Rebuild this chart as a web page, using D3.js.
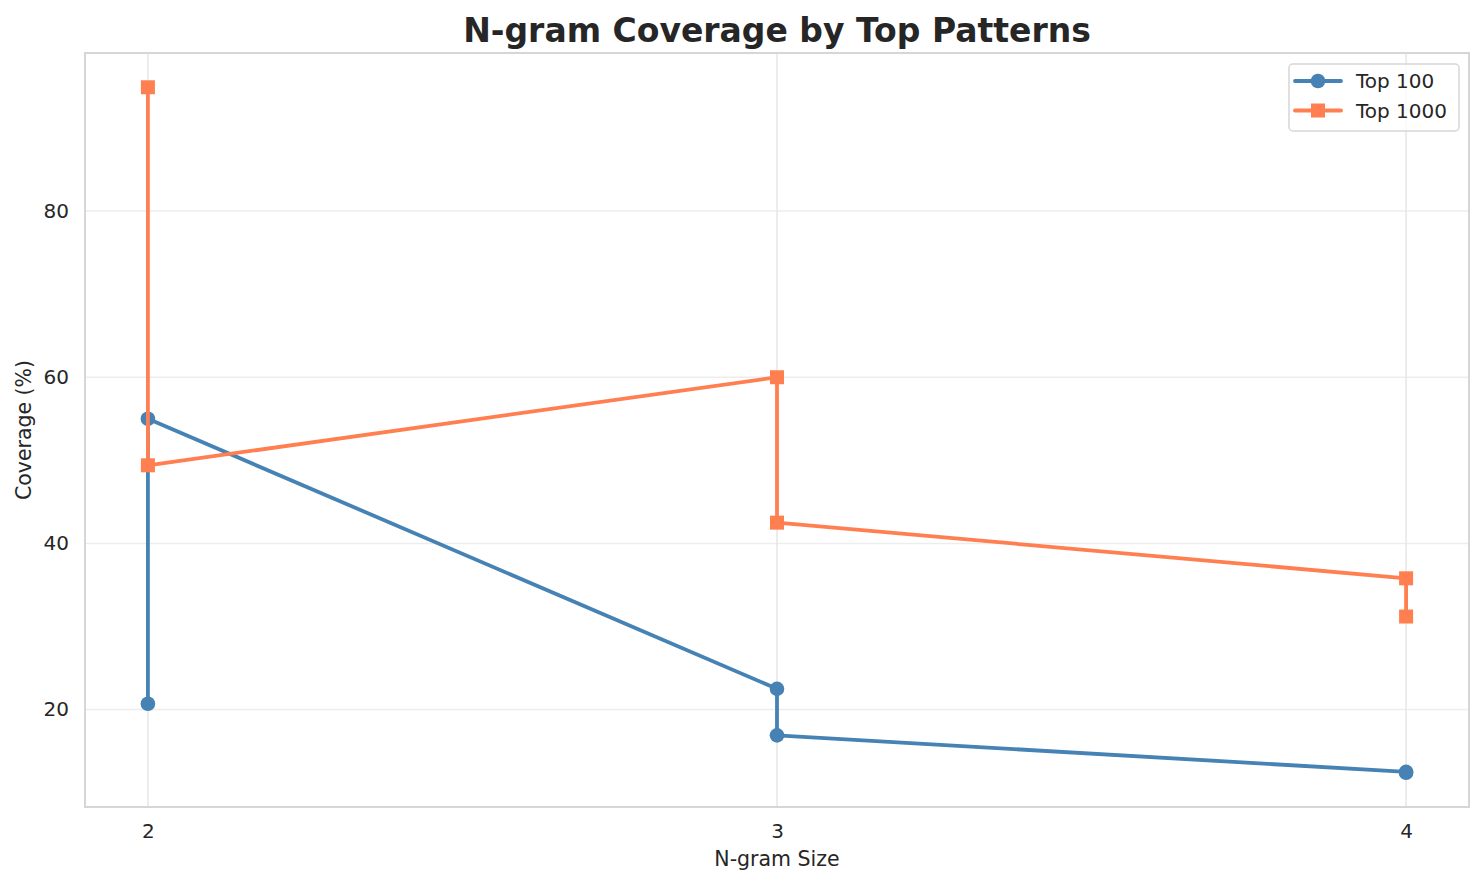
<!DOCTYPE html>
<html>
<head>
<meta charset="utf-8">
<script src="https://cdn.jsdelivr.net/npm/d3@7"></script>
<style>
    body { margin: 0; background: #fff; }
    svg { display: block; font-family: "DejaVu Sans", sans-serif; }
</style>
</head>
<body>
<div id="chart"></div>
<script>
// values
const ngramSizes = [2, 2, 3, 3, 4, 4];
const top100 = [20.7, 55.0, 22.5, 16.9, 12.5, 12.4];
const top1000 = [94.9, 49.4, 60.0, 42.5, 35.8, 31.2];
const xTicks = [2, 3, 4];
const yTicks = [20, 40, 60, 80];
const seriesNames = ['Top 100', 'Top 1000'];

const width = 1484;
const height = 885;
const margin = { top: 53, right: 15, bottom: 78, left: 85 };

const svg = d3.select('#chart')
    .append('svg')
    .attr('width', width)
    .attr('height', height);

const series = [
    { name: seriesNames[0], values: top100, color: '#4682B4', marker: 'circle' },
    { name: seriesNames[1], values: top1000, color: '#FF7F50', marker: 'square' }
];

// matplotlib style 5% padding on both axes
const xExt = d3.extent(ngramSizes);
const xPad = (xExt[1] - xExt[0]) * 0.05;
const allY = top100.concat(top1000);
const yExt = d3.extent(allY);
const yPad = (yExt[1] - yExt[0]) * 0.05;

const x = d3.scaleLinear()
    .domain([xExt[0] - xPad, xExt[1] + xPad])
    .range([margin.left, width - margin.right]);

const y = d3.scaleLinear()
    .domain([yExt[0] - yPad, yExt[1] + yPad])
    .range([height - margin.bottom, margin.top]);

// grid
svg.append('g')
    .selectAll('line')
    .data(yTicks)
    .enter().append('line')
    .attr('x1', margin.left)
    .attr('x2', width - margin.right)
    .attr('y1', d => y(d))
    .attr('y2', d => y(d))
    .attr('stroke', '#ededed')
    .attr('stroke-width', 1.5);

svg.append('g')
    .selectAll('line')
    .data(xTicks)
    .enter().append('line')
    .attr('x1', d => x(d))
    .attr('x2', d => x(d))
    .attr('y1', margin.top)
    .attr('y2', height - margin.bottom)
    .attr('stroke', '#e6e6e6')
    .attr('stroke-width', 1.5);

// axes (no tick marks, seaborn whitegrid look)
const xAxis = svg.append('g')
    .attr('transform', `translate(0, ${height - margin.bottom})`)
    .call(d3.axisBottom(x).tickValues(xTicks).tickFormat(d3.format('d')).tickSize(0).tickPadding(16.5));

const yAxis = svg.append('g')
    .attr('transform', `translate(${margin.left}, 0)`)
    .call(d3.axisLeft(y).tickValues(yTicks).tickSize(0).tickPadding(16));

[xAxis, yAxis].forEach(a => {
    a.select('.domain').remove();
    a.selectAll('text')
        .style('font-size', '20px')
        .style('font-family', '"DejaVu Sans", sans-serif')
        .attr('fill', '#262626');
});

// frame
svg.append('rect')
    .attr('x', margin.left)
    .attr('y', margin.top)
    .attr('width', width - margin.left - margin.right)
    .attr('height', height - margin.top - margin.bottom)
    .attr('fill', 'none')
    .attr('stroke', '#d2d2d2')
    .attr('stroke-width', 1.8);

// lines and markers
const line = d3.line()
    .x((d, i) => x(ngramSizes[i]))
    .y(d => y(d));

series.forEach(s => {
    const g = svg.append('g');
    g.append('path')
        .datum(s.values)
        .attr('d', line)
        .attr('fill', 'none')
        .attr('stroke', s.color)
        .attr('stroke-width', 3.8)
        .attr('stroke-linejoin', 'round')
        .attr('stroke-linecap', 'square');

    if (s.marker === 'circle') {
        g.selectAll('circle')
            .data(s.values)
            .enter().append('circle')
            .attr('cx', (d, i) => x(ngramSizes[i]))
            .attr('cy', d => y(d))
            .attr('r', 7.3)
            .attr('fill', s.color);
    } else {
        g.selectAll('rect')
            .data(s.values)
            .enter().append('rect')
            .attr('x', (d, i) => x(ngramSizes[i]) - 7)
            .attr('y', d => y(d) - 7)
            .attr('width', 14)
            .attr('height', 14)
            .attr('fill', s.color);
    }
});

// title and axis labels
svg.append('text')
    .attr('x', (margin.left + width - margin.right) / 2)
    .attr('y', 42)
    .attr('text-anchor', 'middle')
    .style('font-size', '33px')
    .style('font-weight', 'bold')
    .attr('fill', '#262626')
    .text('N-gram Coverage by Top Patterns');

svg.append('text')
    .attr('x', (margin.left + width - margin.right) / 2)
    .attr('y', 866)
    .attr('text-anchor', 'middle')
    .style('font-size', '20.5px')
    .attr('fill', '#262626')
    .text('N-gram Size');

svg.append('text')
    .attr('transform', `translate(31, ${(margin.top + height - margin.bottom) / 2}) rotate(-90)`)
    .attr('text-anchor', 'middle')
    .style('font-size', '20.5px')
    .attr('fill', '#262626')
    .text('Coverage (%)');

// legend
const legend = svg.append('g').attr('transform', 'translate(1289, 64)');
legend.append('rect')
    .attr('width', 170)
    .attr('height', 67)
    .attr('rx', 4)
    .attr('fill', 'white')
    .attr('fill-opacity', 0.8)
    .attr('stroke', '#d6d6d6')
    .attr('stroke-width', 1.5);

series.forEach((s, i) => {
    const row = legend.append('g').attr('transform', `translate(0, ${17 + i * 29.5})`);
    row.append('line')
        .attr('x1', 6)
        .attr('x2', 52)
        .attr('stroke', s.color)
        .attr('stroke-width', 3.8)
        .attr('stroke-linecap', 'round');
    if (s.marker === 'circle') {
        row.append('circle').attr('cx', 29).attr('r', 7.3).attr('fill', s.color);
    } else {
        row.append('rect').attr('x', 22).attr('y', -7).attr('width', 14).attr('height', 14).attr('fill', s.color);
    }
    row.append('text')
        .attr('x', 67)
        .attr('dy', '0.35em')
        .style('font-size', '20px')
        .attr('fill', '#262626')
        .text(s.name);
});
</script>
</body>
</html>
